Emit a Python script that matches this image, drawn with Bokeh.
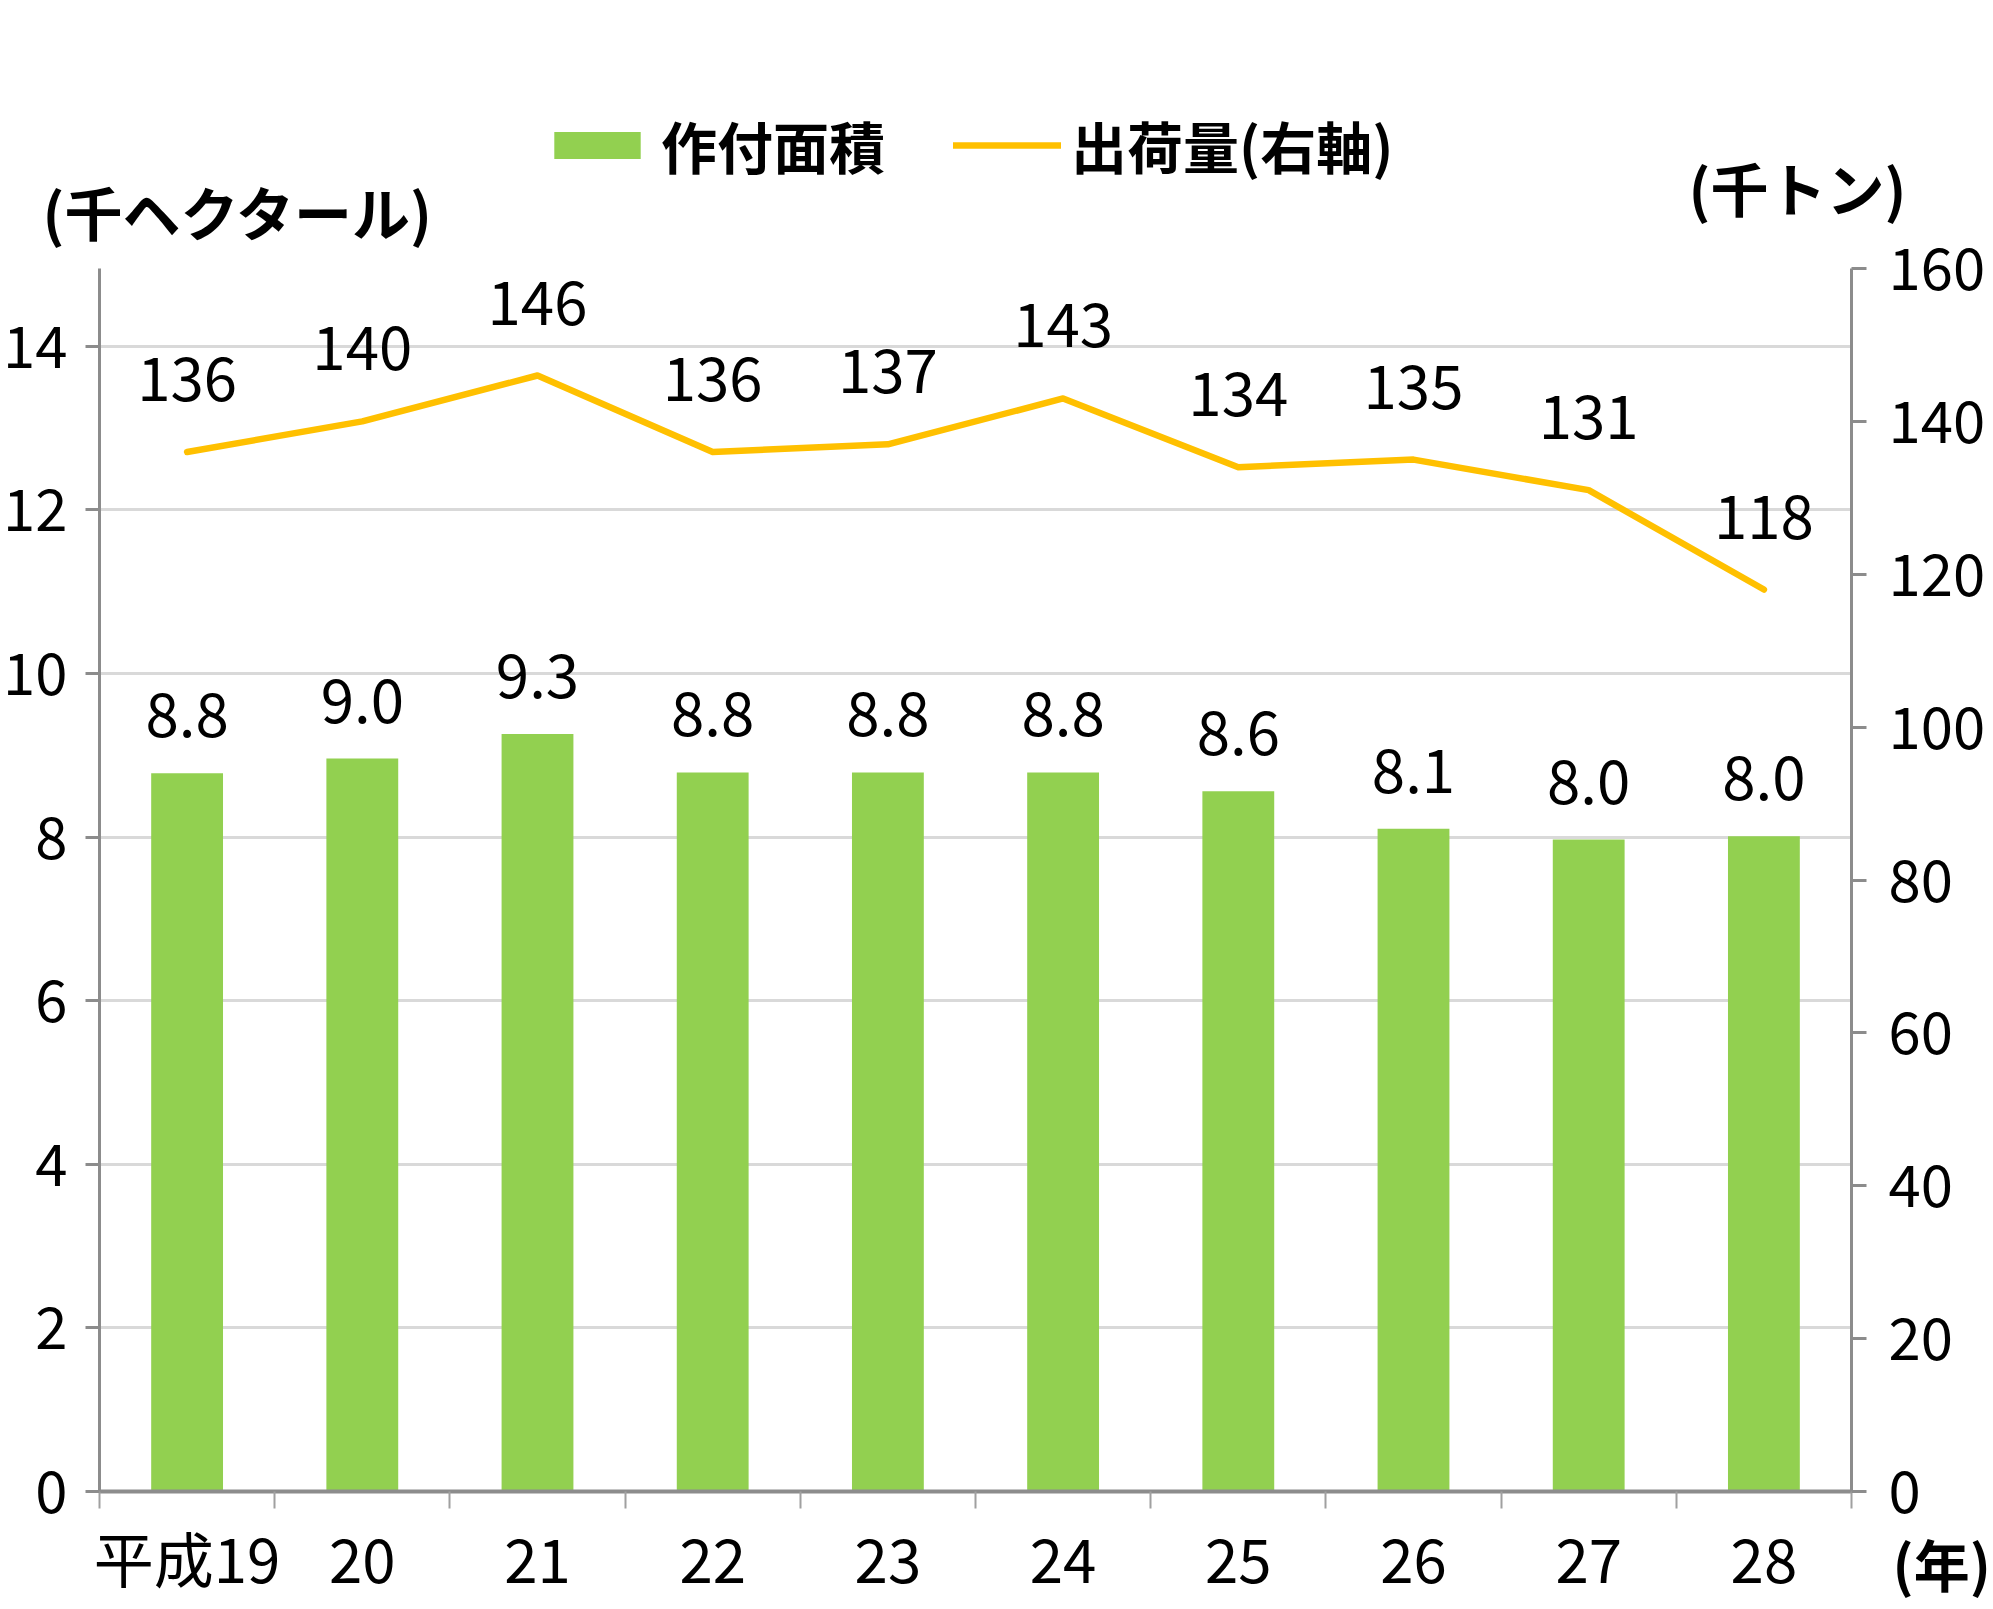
from bokeh.plotting import figure
from bokeh.models import (Range1d, LinearAxis, FixedTicker, Grid,
                          Legend, LegendItem, Label)
from bokeh.core.properties import value
from bokeh.embed import file_html
from bokeh.resources import INLINE

# ---- data ----
years = ["平成19", "20", "21", "22", "23", "24", "25", "26", "27", "28"]
area = [8.78, 8.96, 9.26, 8.79, 8.79, 8.79, 8.56, 8.10, 7.97, 8.01]   # 千ヘクタール
shipment = [136, 140, 146, 136, 137, 143, 134, 135, 131, 118]       # 千トン
left_ticks = [0, 2, 4, 6, 8, 10, 12, 14]
right_ticks = [0, 20, 40, 60, 80, 100, 120, 140, 160]
area_labels = [f"{v:.1f}" for v in area]
ship_labels = [str(v) for v in shipment]
left_max = 14.95
right_max = 160

n = len(years)
idx = list(range(n))                              # category centres
bounds = [i - 0.5 for i in range(n + 1)]          # category boundaries

# ---- layout (pixels) ----
W, H = 1993, 1609
FL, FR, FT, FB = 99, 1851, 268, 1491              # plot area edges
px_x = (FR - FL) / n
px_y = (FB - FT) / left_max
px_r = (FB - FT) / right_max

FONT = "Noto Sans CJK JP"
GREEN = "#92D050"
ORANGE = "#FFC000"
AXIS = "#8C8C8C"
GRID = "#D9D9D9"
TICK_SIZE = "58px"
LABEL_SIZE = "60px"

p = figure(width=W, height=H,
           x_range=Range1d(-0.5 - FL / px_x, -0.5 + (W - FL) / px_x),
           y_range=Range1d(-(H - FB) / px_y, FB / px_y),
           toolbar_location=None, output_backend="svg",
           min_border=0, outline_line_color=None)
p.extra_y_ranges = {"ship": Range1d(-(H - FB) / px_r, FB / px_r)}

p.xgrid.visible = False
yg = p.ygrid[0]
yg.ticker = FixedTicker(ticks=left_ticks)
yg.grid_line_color = GRID
yg.grid_line_width = 3
if "cross_bounds" in Grid.properties():
    yg.cross_bounds = (-0.5, n - 0.5)
    yg.bounds = (0, left_max)
else:
    yg.visible = False
    p.segment(x0=[-0.5] * len(left_ticks), x1=[n - 0.5] * len(left_ticks),
              y0=left_ticks, y1=left_ticks, line_color=GRID, line_width=3,
              level="underlay")

def style_axis(ax, tick_out, standoff):
    ax.axis_line_color = AXIS
    ax.axis_line_width = 3
    ax.major_tick_out = tick_out
    ax.major_tick_in = 0
    ax.minor_tick_out = 0
    ax.minor_tick_in = 0
    ax.major_tick_line_color = AXIS
    ax.major_tick_line_width = 3
    ax.major_label_standoff = standoff
    ax.major_label_text_font = FONT
    ax.major_label_text_font_size = TICK_SIZE
    ax.major_label_text_color = "black"

yl = p.yaxis[0]
yl.ticker = FixedTicker(ticks=left_ticks)
yl.fixed_location = -0.5
yl.bounds = (0, left_max)
style_axis(yl, 14, 18)

yr = LinearAxis(y_range_name="ship", ticker=FixedTicker(ticks=right_ticks))
yr.fixed_location = n - 0.5
yr.bounds = (0, right_max)
style_axis(yr, 15, 22)
p.add_layout(yr, "right")

xa = p.xaxis[0]
xa.ticker = FixedTicker(ticks=idx, minor_ticks=bounds)
xa.major_label_overrides = {i: y for i, y in zip(idx, years)}
xa.fixed_location = 0
xa.bounds = (-0.5, n - 0.5)
style_axis(xa, 0, 4)
xa.major_label_text_font_size = LABEL_SIZE
xa.axis_line_width = 4
xa.minor_tick_out = 17
xa.minor_tick_line_color = "#A0A0A0"
xa.minor_tick_line_width = 2

bars = p.vbar(x=idx, top=area, width=0.41, fill_color=GREEN, line_color=None)
line = p.line(x=idx, y=shipment, y_range_name="ship", line_color=ORANGE,
              line_width=6.5, line_cap="round", line_join="round")

p.text(x=idx, y=area, text=area_labels, y_offset=-58,
       text_align="center", text_baseline="alphabetic",
       text_font=value(FONT), text_font_size=LABEL_SIZE, text_color="black")
p.text(x=idx, y=shipment, text=ship_labels, y_range_name="ship", y_offset=-73,
       text_align="center", text_baseline="alphabetic",
       text_font=value(FONT), text_font_size=LABEL_SIZE, text_color="black")

legend = Legend(items=[LegendItem(label="作付面積", renderers=[bars]),
                       LegendItem(label="出荷量(右軸)", renderers=[line])],
                orientation="horizontal", location=(543, 1424),
                glyph_width=108, glyph_height=34, label_standoff=10, spacing=68,
                padding=0, margin=0, border_line_color=None,
                background_fill_alpha=0,
                label_text_font=FONT, label_text_font_size="56px",
                label_text_font_style="bold", label_text_color="black")
p.add_layout(legend, "center")

for txt, x, y, size in [("(千ヘクタール)", 42, H - 210, "58px"),
                        ("(千トン)", 1688, H - 186, "58px"),
                        ("(年)", 1892, H - 1562, "56px")]:
    p.add_layout(Label(x=x, y=y, x_units="screen", y_units="screen", text=txt,
                       text_font=FONT, text_font_size=size, text_font_style="bold",
                       text_baseline="middle", text_align="left", text_color="black"))

open("out.html", "w").write(file_html(p, INLINE))
